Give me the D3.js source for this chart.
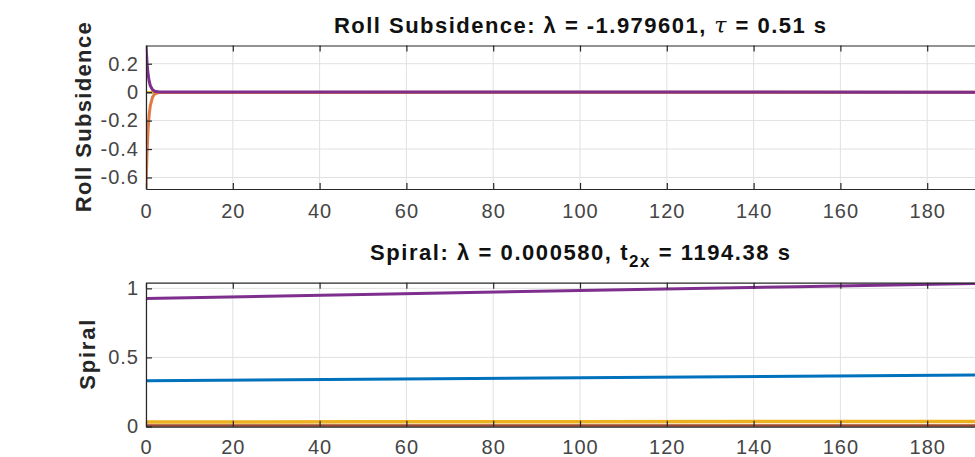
<!DOCTYPE html>
<html>
<head>
<meta charset="utf-8">
<script src="https://cdn.jsdelivr.net/npm/d3@7"></script>
<style>
  html, body { margin: 0; padding: 0; background: #fff; overflow: hidden; }
  svg { display: block; font-family: "Liberation Sans", Arial, sans-serif; }
</style>
</head>
<body>
<svg id="chart" width="975" height="457"></svg>
<script>
// ---------- data ----------
const xTicks = [0, 20, 40, 60, 80, 100, 120, 140, 160, 180, 200];
const xTickLabels = ["0", "20", "40", "60", "80", "100", "120", "140", "160", "180", ""];

// Roll subsidence mode
const rollTime   = [0, 0.25, 0.5, 0.75, 1, 1.5, 2, 3, 200];
const rollPurple = [0.328, 0.20, 0.122, 0.074, 0.045, 0.017, 0.006, 0.001, 0];
const rollOrange = [-0.68, -0.415, -0.252, -0.154, -0.094, -0.035, -0.013, -0.002, 0];
const rollBlue   = [0, 0, 0, 0, 0, 0, 0, 0, 0];
const rollYellow = [0, 0, 0, 0, 0, 0, 0, 0, 0];
const rollYTicks = [0.2, 0, -0.2, -0.4, -0.6];
const rollYTickLabels = ["0.2", "0", "-0.2", "-0.4", "-0.6"];

// Spiral mode
const spiralTime   = [0, 50, 100, 150, 200];
const spiralPurple = [0.927, 0.955, 0.985, 1.012, 1.041];
const spiralBlue   = [0.330, 0.341, 0.352, 0.363, 0.374];
const spiralYellow = [0.032, 0.033, 0.034, 0.035, 0.036];
const spiralOrange = [0.004, 0.004, 0.004, 0.005, 0.005];
const spiralYTicks = [0, 0.5, 1];
const spiralYTickLabels = ["0", "0.5", "1"];

const colors = { blue: "#0072BD", orange: "#D95319", yellow: "#EDB120", purple: "#7E2F8E" };

// ---------- drawing ----------
const svg = d3.select("#chart");
const axisColor = "#262626";
const gridColor = "#e1e1e1";
const tickFont = 20;

function panel(cfg) {
  const x = d3.scaleLinear().domain([0, 200]).range([146, 1014]);
  const y = d3.scaleLinear().domain(cfg.yDomain).range([cfg.bottom, cfg.top]);
  const g = svg.append("g");
  const id = "clip" + cfg.key;
  svg.append("defs").append("clipPath").attr("id", id)
    .append("rect").attr("x", 146).attr("y", cfg.top)
    .attr("width", 868).attr("height", cfg.bottom - cfg.top);

  g.append("rect").attr("x", 146).attr("y", cfg.top).attr("width", 868)
    .attr("height", cfg.bottom - cfg.top).attr("fill", "#fff");

  // grid
  g.append("g").selectAll("line").data(xTicks).join("line")
    .attr("x1", d => x(d)).attr("x2", d => x(d))
    .attr("y1", cfg.top).attr("y2", cfg.bottom)
    .attr("stroke", gridColor).attr("stroke-width", 1);
  g.append("g").selectAll("line").data(cfg.yTicks).join("line")
    .attr("x1", 146).attr("x2", 1014)
    .attr("y1", d => y(d)).attr("y2", d => y(d))
    .attr("stroke", gridColor).attr("stroke-width", 1);

  // lines
  const line = d3.line().x(d => x(d[0])).y(d => y(d[1]));
  const lg = g.append("g").attr("clip-path", `url(#${id})`);
  cfg.series.forEach(s => {
    const pts = cfg.time.map((t, i) => [t, s.values[i]]);
    lg.append("path").datum(pts).attr("d", line)
      .attr("fill", "none").attr("stroke", s.color)
      .attr("stroke-width", s.width || 2.5).attr("stroke-linejoin", "round");
  });

  // axes (ticks inward)
  const bottomAxis = d3.axisBottom(x).tickValues(xTicks).tickSizeInner(-6).tickSizeOuter(0)
    .tickPadding(cfg.xPad).tickFormat((d, i) => xTickLabels[i]);
  const gx = g.append("g").attr("transform", `translate(0,${cfg.bottom})`).call(bottomAxis);
  const topAxis = d3.axisTop(x).tickValues(xTicks).tickSizeInner(-6).tickSizeOuter(0).tickFormat("");
  const gxt = g.append("g").attr("transform", `translate(0,${cfg.top})`).call(topAxis);
  const leftAxis = d3.axisLeft(y).tickValues(cfg.yTicks).tickSizeInner(-6).tickSizeOuter(0).tickPadding(8)
    .tickFormat((d, i) => cfg.yTickLabels[i]);
  const gy = g.append("g").attr("transform", "translate(146,0)").call(leftAxis);

  [gx, gxt, gy].forEach(a => {
    a.select(".domain").attr("stroke", axisColor).attr("stroke-width", 1.2);
    a.selectAll(".tick line").attr("stroke", axisColor).attr("stroke-width", 1.2);
    a.selectAll(".tick text").attr("fill", "#454545").attr("font-size", tickFont)
      .attr("letter-spacing", 1)
      .attr("font-family", "Liberation Sans, Arial, sans-serif");
  });
  gy.selectAll(".tick text").attr("x", -7);

  // y label
  g.append("text")
    .attr("transform", `translate(${cfg.labelX},${(cfg.top + cfg.bottom) / 2}) rotate(-90)`)
    .attr("text-anchor", "middle").attr("dominant-baseline", "central")
    .attr("font-size", 22).attr("font-weight", "bold").attr("fill", axisColor)
    .attr("textLength", cfg.labelLen).attr("lengthAdjust", "spacing")
    .text(cfg.ylabel);

  // title
  const t = g.append("text").attr("x", 580).attr("y", cfg.titleY)
    .attr("text-anchor", "middle").attr("font-size", 22).attr("font-weight", "bold")
    .attr("fill", "#111")
    .attr("textLength", cfg.titleLen).attr("lengthAdjust", "spacing");
  cfg.title(t);
}

panel({
  key: "roll", top: 45.5, bottom: 189, yDomain: [-0.681, 0.328],
  yTicks: rollYTicks, yTickLabels: rollYTickLabels, time: rollTime,
  ylabel: "Roll Subsidence", labelX: 83, labelLen: 190, titleY: 33, titleLen: 492, xPad: 15,
  series: [
    { values: rollBlue, color: colors.blue },
    { values: rollYellow, color: colors.yellow },
    { values: rollOrange, color: "#E07A45", width: 3 },
    { values: rollPurple, color: colors.purple, width: 3 }
  ],
  title: t => {
    t.append("tspan").text("Roll Subsidence: ");
    t.append("tspan").text("λ");
    t.append("tspan").text(" = -1.979601, ");
    t.append("tspan").attr("font-style", "italic").attr("font-family", "DejaVu Serif, serif").attr("font-weight", "normal").text("τ");
    t.append("tspan").text(" = 0.51 s");
  }
});

panel({
  key: "spiral", top: 282.7, bottom: 426.7, yDomain: [-0.002, 1.041],
  yTicks: spiralYTicks, yTickLabels: spiralYTickLabels, time: spiralTime,
  ylabel: "Spiral", labelX: 87, labelLen: 70, titleY: 260, titleLen: 420, xPad: 13,
  series: [
    { values: spiralOrange, color: "#A0482A", width: 3 },
    { values: spiralYellow, color: colors.yellow, width: 3.5 },
    { values: spiralBlue, color: colors.blue, width: 3 },
    { values: spiralPurple, color: colors.purple, width: 3 }
  ],
  title: t => {
    t.append("tspan").text("Spiral: ");
    t.append("tspan").text("λ");
    t.append("tspan").text(" = 0.000580, t");
    t.append("tspan").attr("dy", 7).attr("font-size", 17).text("2x");
    t.append("tspan").attr("dy", -7).text(" = 1194.38 s");
  }
});
</script>
</body>
</html>
